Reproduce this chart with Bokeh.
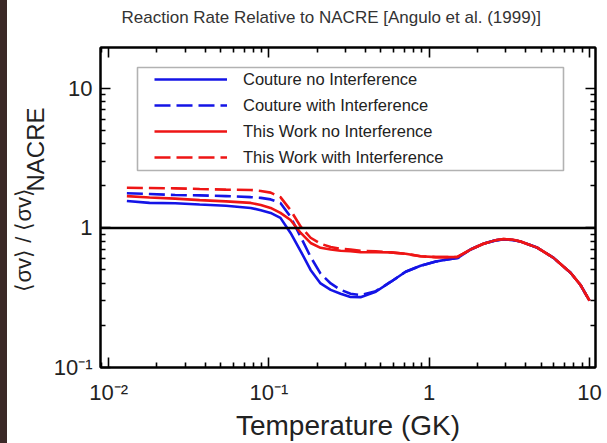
import math
from bokeh.plotting import figure
from bokeh.models import (FixedTicker, LogAxis, Span, Legend, LegendItem,
                          BoxAnnotation, Div, Title)
from bokeh.layouts import row
from bokeh.embed import file_html
from bokeh.resources import INLINE

# ---------------- data ----------------
temperature = [0.013, 0.018, 0.026, 0.037, 0.054, 0.077, 0.089, 0.1025, 0.118, 0.1365,
               0.158, 0.182, 0.21, 0.243, 0.28, 0.323, 0.373, 0.464, 0.574, 0.713,
               0.883, 1.10, 1.36, 1.50, 1.81, 2.18, 2.59, 2.91, 3.31, 3.71,
               4.74, 5.97, 7.62, 8.79, 10.0]

couture_no = [1.56, 1.51, 1.50, 1.47, 1.44, 1.39, 1.34, 1.28, 1.18, 0.92,
              0.68, 0.50, 0.40, 0.36, 0.338, 0.32, 0.319, 0.349, 0.41, 0.485,
              0.535, 0.574, 0.60, 0.608, 0.70, 0.77, 0.814, 0.828, 0.82, 0.80,
              0.72, 0.61, 0.477, 0.39, 0.301]

couture_with = [1.77, 1.75, 1.72, 1.71, 1.69, 1.66, 1.64, 1.60, 1.51, 1.20,
                0.86, 0.62, 0.47, 0.40, 0.36, 0.338, 0.33, 0.352, 0.41, 0.485,
                0.535, 0.574, 0.60, 0.608, 0.70, 0.77, 0.814, 0.828, 0.82, 0.80,
                0.72, 0.61, 0.477, 0.39, 0.301]

this_no = [1.69, 1.65, 1.62, 1.58, 1.55, 1.51, 1.46, 1.39, 1.28, 1.14,
           0.92, 0.78, 0.72, 0.70, 0.686, 0.68, 0.67, 0.67, 0.668, 0.652,
           0.626, 0.618, 0.618, 0.62, 0.70, 0.77, 0.816, 0.832, 0.824, 0.80,
           0.72, 0.61, 0.477, 0.39, 0.301]

this_with = [1.94, 1.93, 1.92, 1.90, 1.88, 1.87, 1.84, 1.79, 1.66, 1.34,
             1.02, 0.85, 0.77, 0.73, 0.708, 0.70, 0.686, 0.68, 0.668, 0.652,
             0.626, 0.618, 0.618, 0.62, 0.70, 0.77, 0.816, 0.832, 0.824, 0.80,
             0.72, 0.61, 0.477, 0.39, 0.301]

series_names = ["Couture no Interference", "Couture with Interference",
                "This Work no Interference", "This Work with Interference"]

x_major = [0.01, 0.1, 1, 10]
x_labels = ["10\u207b\u00b2", "10\u207b\u00b9", "1", "10"]
y_major = [0.1, 1, 10]
y_labels = ["10\u207b\u00b9", "1", "10"]
reference_level = 1.0

title_text = "Reaction Rate Relative to NACRE [Angulo et al. (1999)]"
x_title = "Temperature (GK)"
y_title_main = "\u27e8\u03c3v\u27e9 / \u27e8\u03c3v\u27e9"
y_title_sub = "NACRE"

# ---------------- styling ----------------
FONT = "Liberation Sans"
BLUE = "#1414e6"
RED = "#ee1515"
TEXT = "#222222"

x_minor = [m * 10.0 ** e for e in (-3, -2, -1, 0, 1) for m in range(2, 10)]
y_minor = [m * 10.0 ** e for e in (-2, -1, 0, 1) for m in range(2, 10)]

p = figure(width=600, height=443, x_axis_type="log", y_axis_type="log",
           x_range=(0.0089, 10.9), y_range=(0.1, 19.6),
           output_backend="svg", toolbar_location=None,
           min_border_left=93, min_border_right=12, min_border_top=47,
           min_border_bottom=75, background_fill_color="white",
           border_fill_color="white")
p.grid.visible = False
p.outline_line_color = "black"
p.outline_line_width = 2

p.title.text = title_text
p.title.align = "left"
p.title.offset = 21
p.title.standoff = 2
p.title.text_font = FONT
p.title.text_font_size = "17px"
p.title.text_font_style = "normal"
p.title.text_color = "#333333"


def style_axis(ax, labels):
    ax.major_tick_in = 10
    ax.major_tick_out = 0
    ax.minor_tick_in = 5
    ax.minor_tick_out = 0
    ax.major_tick_line_width = 1.6
    ax.minor_tick_line_width = 1.6
    ax.major_tick_line_color = "black"
    ax.minor_tick_line_color = "black"
    ax.axis_line_width = 2
    ax.axis_line_color = "black"
    if labels:
        ax.major_label_text_font = FONT
        ax.major_label_text_font_size = "22px"
        ax.major_label_text_color = TEXT
    else:
        ax.major_label_text_font_size = "0px"
        ax.major_label_text_alpha = 0
        ax.major_label_standoff = 0


xa = p.xaxis[0]
xa.ticker = FixedTicker(ticks=x_major, minor_ticks=x_minor)
xa.major_label_overrides = dict(zip(x_major, x_labels))
xa.major_label_standoff = 12
style_axis(xa, True)
xa.axis_label = x_title
xa.axis_label_standoff = 2
xa.axis_label_text_font = FONT
xa.axis_label_text_font_size = "28px"
xa.axis_label_text_font_style = "normal"
xa.axis_label_text_color = TEXT

ya = p.yaxis[0]
ya.ticker = FixedTicker(ticks=y_major, minor_ticks=y_minor)
ya.major_label_overrides = dict(zip(y_major, y_labels))
ya.major_label_standoff = 8
style_axis(ya, True)

top = LogAxis(ticker=FixedTicker(ticks=x_major, minor_ticks=x_minor))
style_axis(top, False)
p.add_layout(top, "above")

# invisible spacer axis that lifts the title away from the frame
spacer = LogAxis(ticker=FixedTicker(ticks=x_major, minor_ticks=[]))
spacer.major_tick_in = 0
spacer.major_tick_out = 20
spacer.minor_tick_in = 0
spacer.minor_tick_out = 0
spacer.major_tick_line_alpha = 0
spacer.minor_tick_line_alpha = 0
spacer.axis_line_alpha = 0
spacer.major_label_text_font_size = "0px"
spacer.major_label_text_alpha = 0
spacer.major_label_standoff = 0
p.add_layout(spacer, "above")

right = LogAxis(ticker=FixedTicker(ticks=y_major, minor_ticks=y_minor))
style_axis(right, False)
p.add_layout(right, "right")

# y-axis title: main part and subscript placed as side titles
p.add_layout(Title(text=y_title_sub, align="left", offset=176, standoff=3,
                   vertical_align="bottom", text_font=FONT, text_font_size="24px",
                   text_font_style="normal", text_color=TEXT), "left")
p.add_layout(Title(text=y_title_main, align="left", offset=76, standoff=-35,
                   vertical_align="bottom", text_font=FONT, text_font_size="22px",
                   text_font_style="normal", text_color=TEXT), "left")

# ---------------- curves ----------------
r1 = p.line(temperature, couture_no, line_color=BLUE, line_width=2.6)
r2 = p.line(temperature, couture_with, line_color=BLUE, line_width=2.6, line_dash="16 6")
r3 = p.line(temperature, this_no, line_color=RED, line_width=2.6)
r4 = p.line(temperature, this_with, line_color=RED, line_width=2.6, line_dash="16 6")

p.add_layout(Span(location=reference_level, dimension="width", line_color="black",
                  line_width=2.5))

# ---------------- legend ----------------
p.add_layout(BoxAnnotation(left=37, right=463, top=300, bottom=197,
                           left_units="screen", right_units="screen",
                           top_units="screen", bottom_units="screen",
                           fill_alpha=0, line_color="black", line_width=1.6))
legend = Legend(items=[LegendItem(label=n, renderers=[r])
                       for n, r in zip(series_names, [r1, r2, r3, r4])],
                location=(54, 200), padding=0, spacing=6, margin=0,
                glyph_width=73, glyph_height=20, label_height=20,
                label_standoff=16, border_line_alpha=0, background_fill_alpha=0,
                label_text_font=FONT, label_text_font_size="16.5px",
                label_text_color=TEXT)
p.add_layout(legend)

strip = Div(text="", width=7, height=443, margin=0,
            styles={"background-color": "#3b2927"})
layout = row(strip, p, spacing=0)

open("out.html", "w").write(file_html(layout, INLINE))
